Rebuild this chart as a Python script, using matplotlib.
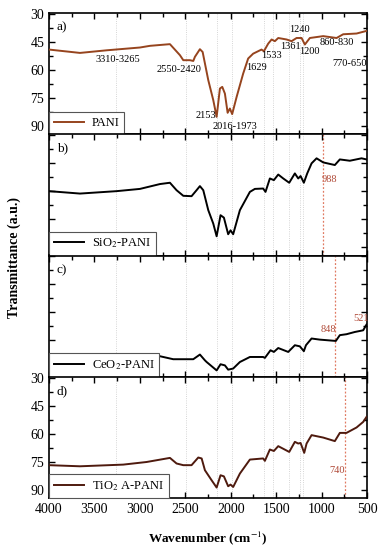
import matplotlib
matplotlib.use("Agg")
import matplotlib.pyplot as plt
import numpy as np
from matplotlib.ticker import MultipleLocator

plt.rcParams["font.family"] = ["Liberation Serif", "DejaVu Serif"]
plt.rcParams["mathtext.fontset"] = "stix"

# PANI (panel a)
wn_pani = [4000, 3659, 3366, 2999, 2889, 2669, 2559, 2522, 2449, 2412, 2394, 2339,
           2309, 2247, 2192, 2155, 2119, 2093, 2064, 2034, 2009, 1984, 1935, 1863,
           1808, 1753, 1661, 1635, 1587, 1550, 1514, 1477, 1385, 1330, 1275, 1220,
           1184, 1129, 982, 835, 762, 615, 505]
t_pani = [49.1, 50.9, 49.5, 48.0, 47.1, 46.2, 52.1, 54.8, 54.8, 55.2, 53.0, 48.9,
          50.4, 65.5, 76.2, 85.2, 70.0, 69.1, 72.7, 83.0, 80.7, 83.7, 74.5, 62.0,
          53.9, 51.3, 49.1, 50.0, 45.9, 43.7, 44.6, 42.9, 43.7, 44.6, 42.9, 42.9,
          46.4, 42.9, 41.9, 42.9, 40.9, 40.5, 39.1]

# SiO2-PANI (panel b)
wn_sio2 = [4000, 3659, 3255, 2999, 2779, 2669, 2596, 2522, 2431, 2376, 2339, 2302,
           2247, 2192, 2155, 2112, 2075, 2028, 2002, 1973, 1899, 1789, 1734, 1643,
           1617, 1569, 1525, 1477, 1422, 1356, 1294, 1257, 1231, 1195, 1158, 1110,
           1055, 982, 854, 799, 689, 560, 505]
t_sio2 = [60.0, 61.3, 60.0, 58.8, 56.2, 55.5, 59.5, 62.5, 62.7, 59.5, 57.3, 59.5,
          70.2, 77.4, 84.2, 72.9, 74.2, 83.1, 81.0, 83.1, 70.2, 60.4, 58.8, 58.6,
          60.4, 53.2, 54.1, 51.1, 53.2, 55.5, 50.5, 53.2, 51.9, 55.5, 50.5, 45.1,
          42.4, 44.6, 46.0, 43.0, 43.7, 42.4, 43.0]

# CeO2-PANI (panel c)
wn_ceo2 = [4000, 3500, 3000, 2779, 2633, 2412, 2339, 2284, 2265, 2155, 2112, 2064,
           2028, 1973, 1899, 1789, 1643, 1624, 1562, 1525, 1477, 1367, 1294, 1239,
           1195, 1172, 1110, 1019, 843, 799, 726, 634, 542, 516, 505]
t_ceo2 = [83.5, 83.5, 83.5, 83.5, 85.1, 85.1, 82.6, 85.7, 86.6, 91.1, 87.8, 88.4,
          90.7, 90.1, 86.6, 83.9, 83.9, 84.4, 80.3, 81.2, 79.1, 81.2, 77.6, 78.2,
          80.8, 77.6, 74.0, 74.6, 75.3, 72.2, 71.7, 70.5, 69.6, 67.4, 66.5]

# TiO2 A-PANI (panel d)
wn_tio2 = [4000, 3659, 3183, 2926, 2669, 2596, 2522, 2431, 2357, 2320, 2284, 2210,
           2155, 2112, 2075, 2028, 2002, 1973, 1899, 1789, 1643, 1624, 1569, 1525,
           1477, 1356, 1294, 1257, 1231, 1191, 1165, 1110, 982, 854, 799, 726, 615,
           542, 505]
t_tio2 = [76.9, 77.5, 76.6, 75.2, 73.0, 76.0, 76.9, 76.9, 72.8, 73.3, 79.6, 85.0,
          88.9, 82.3, 82.9, 88.2, 87.3, 88.6, 81.4, 73.9, 73.3, 74.6, 68.5, 69.3,
          66.7, 69.8, 64.4, 65.3, 65.0, 70.3, 65.3, 60.8, 62.1, 64.0, 59.6, 59.6,
          56.7, 53.7, 51.0]

series_names = ["PANI", "SiO$_2$-PANI", "CeO$_2$-PANI", "TiO$_2$ A-PANI"]
panel_tags = ["a)", "b)", "c)", "d)"]
series_colors = ["#96441e", "#000000", "#000000", "#4e1a0e"]

# peak labels of panel a
pani_labels = ["3310-3265", "2550-2420", "2153", "2016-1973", "1629", "1533",
               "1361", "1240", "1200", "860-830", "770-650"]
pani_label_x = [3246, 2564, 2278, 1959, 1717, 1547, 1338, 1239, 1129, 835, 692]
pani_label_y = [54.2, 59.6, 84.3, 90.6, 58.9, 52.1, 47.2, 38.1, 50.3, 45.4, 56.5]

# reference lines
grid_wn = [3265, 2490, 2153, 1990, 1629, 1533, 1361, 1240, 1200]
red_wn = [None, [988], [848], [740]]
red_labels = [[], [("988", 914, 53.7)], [("848", 920, 69.0), ("521", 560, 63.3)],
              [("740", 826, 79.6)]]

fig = plt.figure(figsize=(3.81, 5.5), dpi=100)
gs = fig.add_gridspec(4, 1, left=49 / 381, right=367 / 381,
                      top=1 - 13 / 550, bottom=1 - 498 / 550, hspace=0)

xs = [wn_pani, wn_sio2, wn_ceo2, wn_tio2]
ys = [t_pani, t_sio2, t_ceo2, t_tio2]

for i in range(4):
    ax = fig.add_subplot(gs[i])
    for w in grid_wn:
        ax.axvline(w, color="#c8c8c8", lw=0.6, ls=":", zorder=1)
    if red_wn[i]:
        for w in red_wn[i]:
            ax.axvline(w, color="#e07a62", lw=0.9, ls=(0, (1.5, 1.5)), zorder=1)
    ax.plot(xs[i], ys[i], color=series_colors[i], lw=1.4, label=series_names[i], zorder=3)

    ax.set_xlim(4000, 500)
    ax.set_ylim(94.5, 29.5)
    ax.xaxis.set_major_locator(MultipleLocator(500))
    ax.xaxis.set_minor_locator(MultipleLocator(250))
    ax.yaxis.set_major_locator(MultipleLocator(15))
    ax.yaxis.set_minor_locator(MultipleLocator(7.5))
    ax.tick_params(which="both", direction="in", top=True, right=True,
                   labelsize=10, width=1.0)
    ax.tick_params(which="major", length=4)
    ax.tick_params(which="minor", length=3)
    for s in ax.spines.values():
        s.set_linewidth(1.2)

    if i in (1, 2):
        ax.tick_params(labelleft=False)
    if i in (0, 3):
        ax.set_yticks([30, 45, 60, 75, 90])
    if i < 3:
        ax.tick_params(labelbottom=False)
    else:
        ax.set_xticks([4000, 3500, 3000, 2500, 2000, 1500, 1000, 500])

    ax.text(0.025, 0.93, panel_tags[i], transform=ax.transAxes, fontsize=9.5,
            va="top", ha="left")

    leg = ax.legend(loc="lower left", borderaxespad=0, fontsize=9,
                    fancybox=False, framealpha=1, edgecolor="#555555",
                    handlelength=2.4, handletextpad=0.6, borderpad=0.4)
    leg.get_frame().set_linewidth(0.8)

    if i == 0:
        for t, xx, yy in zip(pani_labels, pani_label_x, pani_label_y):
            ax.text(xx, yy, t, fontsize=7.5, ha="center", va="center", zorder=4)
    for t, xx, yy in red_labels[i]:
        ax.text(xx, yy, t, fontsize=7.5, ha="center", va="center",
                color="#b04a38", zorder=4)

fig.text(14 / 381, 1 - 257 / 550, "Transmittance (a.u.)", rotation=90,
         fontsize=10, fontweight="bold", ha="center", va="center")
fig.text(208 / 381, 1 - 538 / 550, "Wavenumber (cm$^{-1}$)",
         fontsize=9.5, fontweight="bold", ha="center", va="center")

fig.savefig("out.png", dpi=100)
